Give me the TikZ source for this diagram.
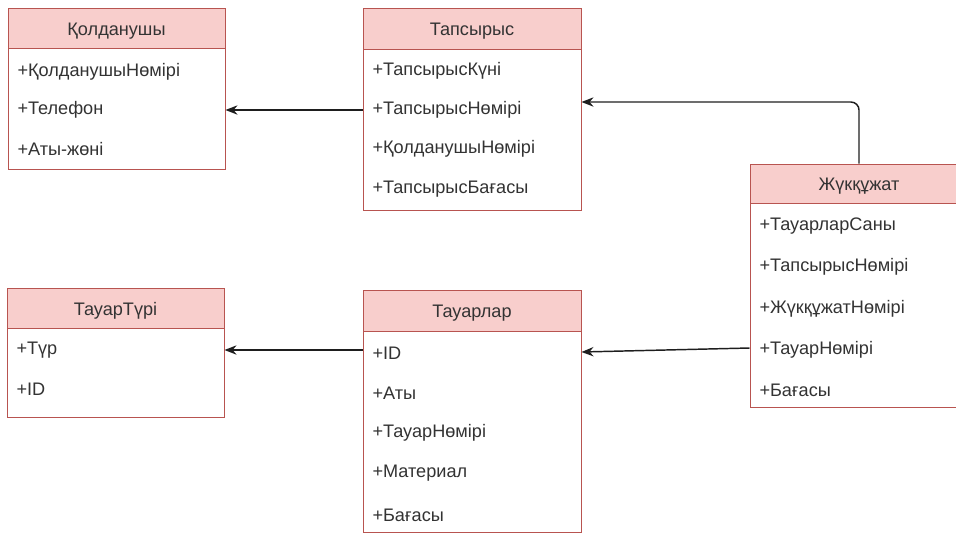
\documentclass[tikz,border=0pt]{standalone}
\usepackage{fontspec}
\setmainfont{Liberation Sans}
\usetikzlibrary{arrows.meta,fit}

\definecolor{hdrfill}{RGB}{248,206,204}
\definecolor{boxline}{RGB}{184,84,80}
\definecolor{txt}{RGB}{51,51,51}

\tikzset{every picture/.style={line width=0.75pt},
  hdr/.style={draw=boxline, fill=hdrfill, inner sep=0pt},
  tbody/.style={draw=boxline, fill=white, inner sep=0pt},
  ttl/.style={anchor=base, yshift=-5.5pt, inner sep=0.75pt, text=txt, font=\fontsize{13.6}{16}\selectfont},
  fld/.style={anchor=west, inner sep=0.75pt, text=txt, font=\fontsize{13.6}{16}\selectfont},
  conn/.style={draw={rgb,255:red,30;green,30;blue,30}, line width=1.1pt, -{Stealth[length=9pt,width=7pt]}}
}

\begin{document}
\begin{tikzpicture}[x=0.75pt,y=0.75pt,yscale=-1,xscale=1]
        \useasboundingbox (0,0) rectangle (956,533);
        \clip (0,0) rectangle (956,533);

        %Shape: Rectangle [Қолданушы]
        \node[hdr, fit={(8,8) (225,48)}] (qolh) {};
        \node[tbody, fit={(8,48) (225,169)}] (qol) {};
        \node[ttl] (qolt) at (qolh.center) {Қолданушы};
        \node[fld] (qol1) at (16,72) {+ҚолданушыНөмірі};
        \node[fld] (qol2) at (16,110) {+Телефон};
        \node[fld] (qol3) at (16,149) {+Аты-жөні};

        %Shape: Rectangle [Тапсырыс]
        \node[hdr, fit={(363,8) (581,49)}] (taph) {};
        \node[tbody, fit={(363,49) (581,210)}] (tap) {};
        \node[ttl] (tapt) at (taph.center) {Тапсырыс};
        \node[fld] (tap1) at (371,71) {+ТапсырысКүні};
        \node[fld] (tap2) at (371,110) {+ТапсырысНөмірі};
        \node[fld] (tap3) at (371,149) {+ҚолданушыНөмірі};
        \node[fld] (tap4) at (371,189) {+ТапсырысБағасы};

        %Shape: Rectangle [Жүкқұжат]
        \node[hdr, fit={(750,164) (968,203)}] (zhkh) {};
        \node[tbody, fit={(750,203) (968,407)}] (zhk) {};
        \node[ttl] (zhkt) at (zhkh.center) {Жүкқұжат};
        \node[fld] (zhk1) at (758,226) {+ТауарларСаны};
        \node[fld] (zhk2) at (758,267) {+ТапсырысНөмірі};
        \node[fld] (zhk3) at (758,309) {+ЖүкқұжатНөмірі};
        \node[fld] (zhk4) at (758,350) {+ТауарНөмірі};
        \node[fld] (zhk5) at (758,390) {+Бағасы};

        %Shape: Rectangle [ТауарТүрі]
        \node[hdr, fit={(7,288) (224,328)}] (tth) {};
        \node[tbody, fit={(7,328) (224,417)}] (tt) {};
        \node[ttl] (ttt) at (tth.center) {ТауарТүрі};
        \node[fld] (tt1) at (15,350) {+Түр};
        \node[fld] (tt2) at (15,389) {+ID};

        %Shape: Rectangle [Тауарлар]
        \node[hdr, fit={(363,290) (581,331)}] (tauh) {};
        \node[tbody, fit={(363,331) (581,532)}] (tau) {};
        \node[ttl] (taut) at (tauh.center) {Тауарлар};
        \node[fld] (tau1) at (371,353) {+ID};
        \node[fld] (tau2) at (371,393) {+Аты};
        \node[fld] (tau3) at (371,433) {+ТауарНөмірі};
        \node[fld] (tau4) at (371,473) {+Материал};
        \node[fld] (tau5) at (371,515) {+Бағасы};

        %Connectors
        \draw[conn] (tap.west |- tap2) -- (qol.east |- tap2);
        \draw[conn, rounded corners=6pt] (zhkh.north) |- (tap.east |- 0,102);
        \draw[conn] (tau.west |- tt1) -- (tt.east |- tt1);
        \draw[conn] (zhk.west |- 0,348) -- (tau.east |- 0,352);

\end{tikzpicture}
\end{document}
